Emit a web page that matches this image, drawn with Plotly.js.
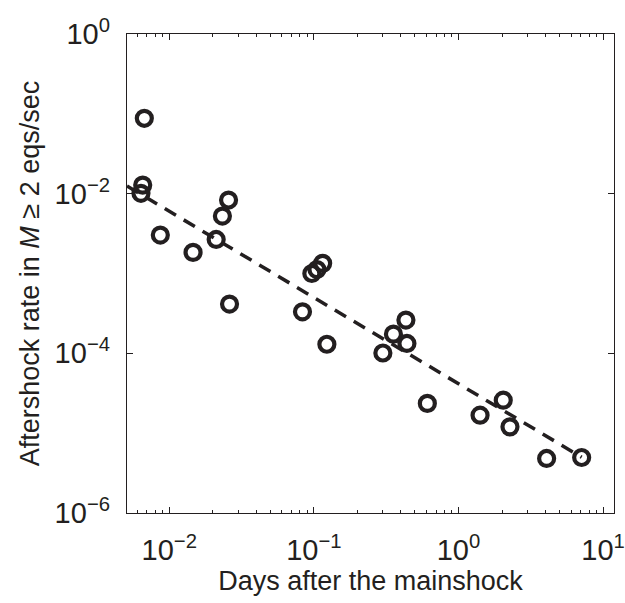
<!DOCTYPE html>
<html>
<head>
<meta charset="utf-8">
<script src="https://cdn.plot.ly/plotly-3.0.1.min.js"></script>
<style>html,body{margin:0;padding:0;background:#fff;}#chart{width:625px;height:603px;}</style>
</head>
<body>
<div id="chart"></div>
<script>
// Observed aftershock rates
const days = [0.00672, 0.00655, 0.00637, 0.00867, 0.0146, 0.0211, 0.0233, 0.0257, 0.0261,
              0.0834, 0.0968, 0.105, 0.115, 0.123, 0.300, 0.355, 0.433, 0.440,
              0.609, 1.41, 2.04, 2.27, 4.07, 7.11];
const rate = [0.0879, 0.0128, 0.0101, 0.00303, 0.00184, 0.00267, 0.00524, 0.00832, 0.000414,
              0.000331, 0.00100, 0.00112, 0.00134, 0.000130, 0.000101, 0.000174, 0.000261, 0.000133,
              2.36e-5, 1.68e-5, 2.59e-5, 1.20e-5, 4.82e-6, 4.96e-6];
// Omori-law fit line endpoints
const fitDays = [0.0051, 7.11];
const fitRate = [0.01245, 5.0e-6];
// Tick labels
const xTickVals = [0.01, 0.1, 1, 10];
const xTickText = ['10<sup>−2</sup>', '10<sup>−1</sup>', '10<sup>0</sup>', '10<sup>1</sup>'];
const yTickVals = [1e-6, 1e-4, 1e-2, 1];
const yTickText = ['10<sup>−6</sup>', '10<sup>−4</sup>', '10<sup>−2</sup>', '10<sup>0</sup>'];

const xMinor = [];
for (let e = -3; e <= 1; e++) for (let m = 2; m <= 9; m++) xMinor.push(m * Math.pow(10, e));

const font = {family: '"Liberation Sans", Arial, Helvetica, sans-serif', color: '#231f20'};

const traces = [
  {x: fitDays, y: fitRate, mode: 'lines', type: 'scatter',
   line: {color: '#231f20', width: 3.5, dash: '13px,9px'}, hoverinfo: 'skip'},
  {x: days, y: rate, mode: 'markers', type: 'scatter',
   marker: {symbol: 'circle-open', size: 15, color: '#231f20', line: {width: 4.2, color: '#231f20'}}}
];

const layout = {
  width: 625, height: 603,
  margin: {l: 127, r: 11, t: 34, b: 90},
  paper_bgcolor: '#fff', plot_bgcolor: '#fff',
  showlegend: false,
  font: Object.assign({size: 22}, font),
  xaxis: {
    type: 'log', range: [Math.log10(0.0051), Math.log10(11.9)],
    tickvals: xTickVals, ticktext: xTickText,
    ticks: 'inside', ticklen: 6, tickwidth: 1, tickcolor: '#231f20',
    minor: {tickvals: xMinor, ticks: 'inside', ticklen: 3, tickwidth: 1, tickcolor: '#231f20', showgrid: false},
    showline: true, linecolor: '#231f20', linewidth: 1.2, mirror: 'ticks',
    showgrid: false, zeroline: false,
    ticklabelstandoff: 11,
    ticklabeloverflow: 'allow',
    tickfont: Object.assign({size: 29}, font),
    title: {text: 'Days after the mainshock', font: Object.assign({size: 27}, font), standoff: 3}
  },
  yaxis: {
    type: 'log', range: [-6, 0],
    tickvals: yTickVals, ticktext: yTickText,
    ticks: 'inside', ticklen: 6, tickwidth: 1, tickcolor: '#231f20',
    showline: true, linecolor: '#231f20', linewidth: 1.2, mirror: 'ticks',
    showgrid: false, zeroline: false,
    ticklabelstandoff: 10,
    ticklabeloverflow: 'allow',
    tickfont: Object.assign({size: 29}, font),
    title: {text: 'Aftershock rate in <i>M</i> ≥ 2 eqs/sec', font: Object.assign({size: 27}, font), standoff: 7}
  }
};

Plotly.newPlot('chart', traces, layout, {displayModeBar: false, staticPlot: true});
</script>
</body>
</html>
